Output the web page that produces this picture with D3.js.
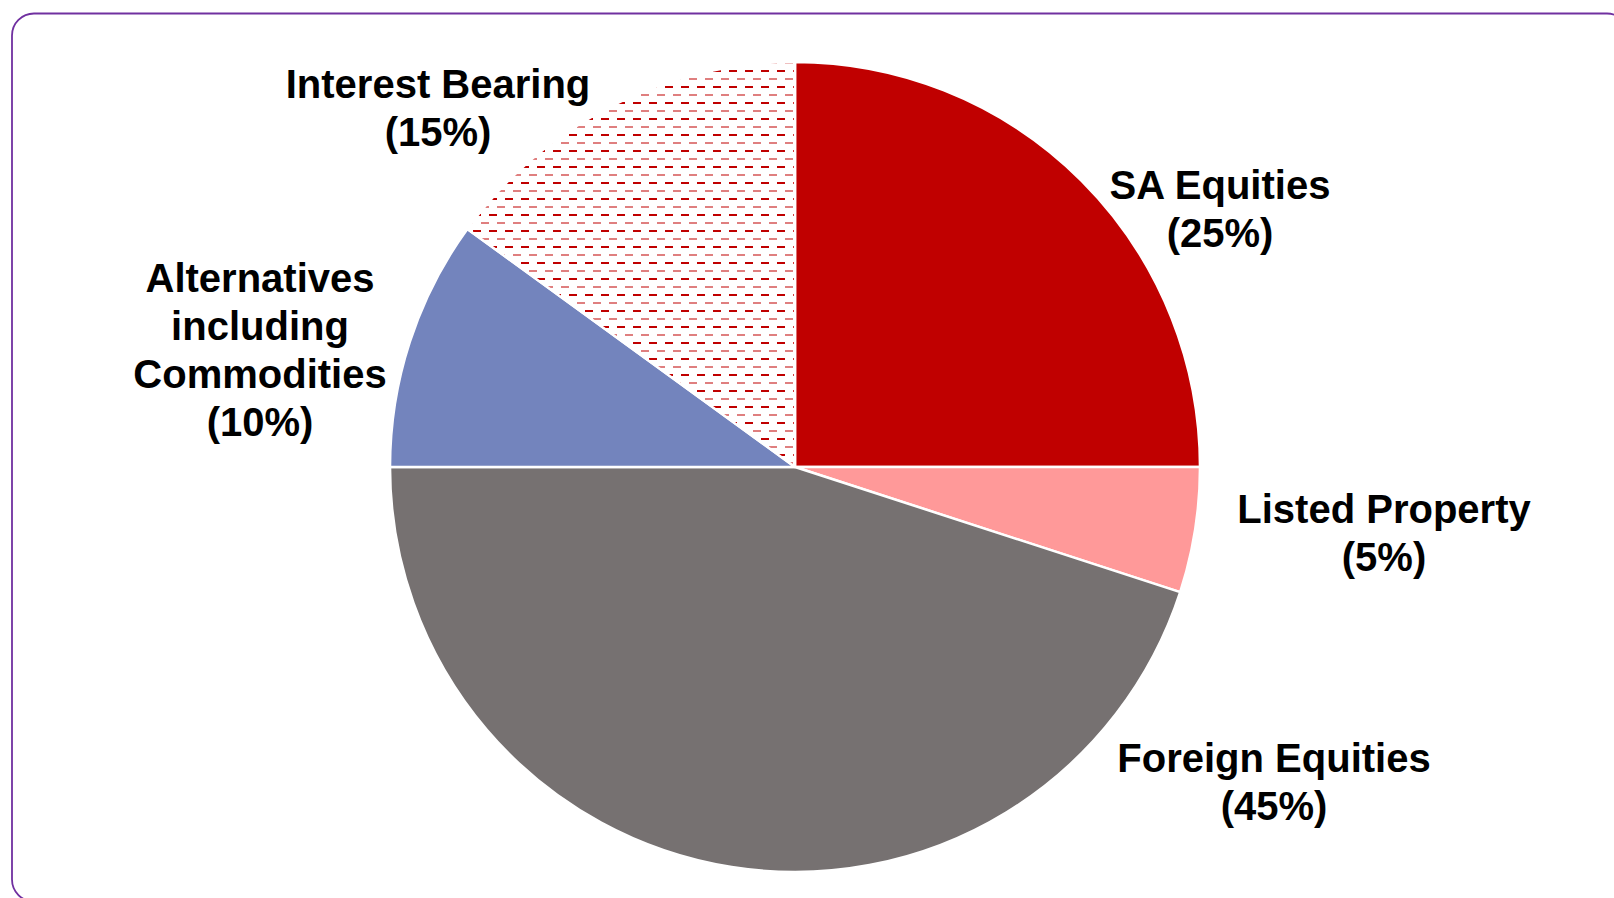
<!DOCTYPE html>
<html>
<head>
<meta charset="utf-8">
<script src="https://d3js.org/d3.v7.min.js"></script>
<style>
  html, body { margin: 0; padding: 0; background: #fff; overflow: hidden; }
</style>
</head>
<body>
<script>
// chart data
const categories = ["SA Equities", "Listed Property", "Foreign Equities", "Alternatives including Commodities", "Interest Bearing"];
const values = [25, 5, 45, 10, 15];
const labelLines = [
  ["SA Equities", "(25%)"],
  ["Listed Property", "(5%)"],
  ["Foreign Equities", "(45%)"],
  ["Alternatives", "including", "Commodities", "(10%)"],
  ["Interest Bearing", "(15%)"]
];
const fills = ["#C00000", "#FF9999", "#767171", "#7384BD", "url(#dashH)"];

// where each label block sits (centre x, first baseline)
const labelPos = [[1220, 199], [1384, 523], [1274, 772], [260, 292], [438, 98]];

const width = 1614, height = 898;
const cx = 795, cy = 467, radius = 405;

const svg = d3.select("body").append("svg")
    .attr("width", width)
    .attr("height", height);

// dashed horizontal fill used by Interest Bearing
const pat = svg.append("defs").append("pattern")
    .attr("id", "dashH")
    .attr("patternUnits", "userSpaceOnUse")
    .attr("x", 14).attr("y", 67)
    .attr("width", 16).attr("height", 16);
pat.append("rect").attr("width", 16).attr("height", 16).attr("fill", "#fff");
pat.append("rect").attr("x", 0).attr("y", 0).attr("width", 8).attr("height", 2).attr("fill", "#C00000");
pat.append("rect").attr("x", 8).attr("y", 8.5).attr("width", 8).attr("height", 1).attr("fill", "#C00000");

// panel border
svg.append("rect")
    .attr("x", 12).attr("y", 13.5)
    .attr("width", 1617).attr("height", 888)
    .attr("rx", 22).attr("ry", 22)
    .attr("fill", "none")
    .attr("stroke", "#7030A0")
    .attr("stroke-width", 1.8);

const pie = d3.pie().sort(null).value(d => d)(values);
const arc = d3.arc().innerRadius(0).outerRadius(radius);

const g = svg.append("g").attr("transform", `translate(${cx},${cy})`);

g.selectAll("path")
  .data(pie)
  .enter()
  .append("path")
    .attr("d", arc)
    .attr("fill", (d, i) => fills[i])
    .attr("stroke", "#fff")
    .attr("stroke-width", 2.5)
    .attr("stroke-linejoin", "round");

const labels = svg.selectAll("text.lbl")
  .data(categories)
  .enter()
  .append("text")
    .attr("class", "lbl")
    .attr("x", (d, i) => labelPos[i][0])
    .attr("y", (d, i) => labelPos[i][1])
    .attr("text-anchor", "middle")
    .attr("font-family", "'Liberation Sans', Arial, sans-serif")
    .attr("font-weight", "bold")
    .attr("font-size", "40px")
    .attr("fill", "#000");

labels.each(function (d, i) {
  d3.select(this).selectAll("tspan")
    .data(labelLines[i])
    .enter()
    .append("tspan")
      .attr("x", labelPos[i][0])
      .attr("dy", (t, j) => j === 0 ? 0 : 48)
      .text(t => t);
});
</script>
</body>
</html>
